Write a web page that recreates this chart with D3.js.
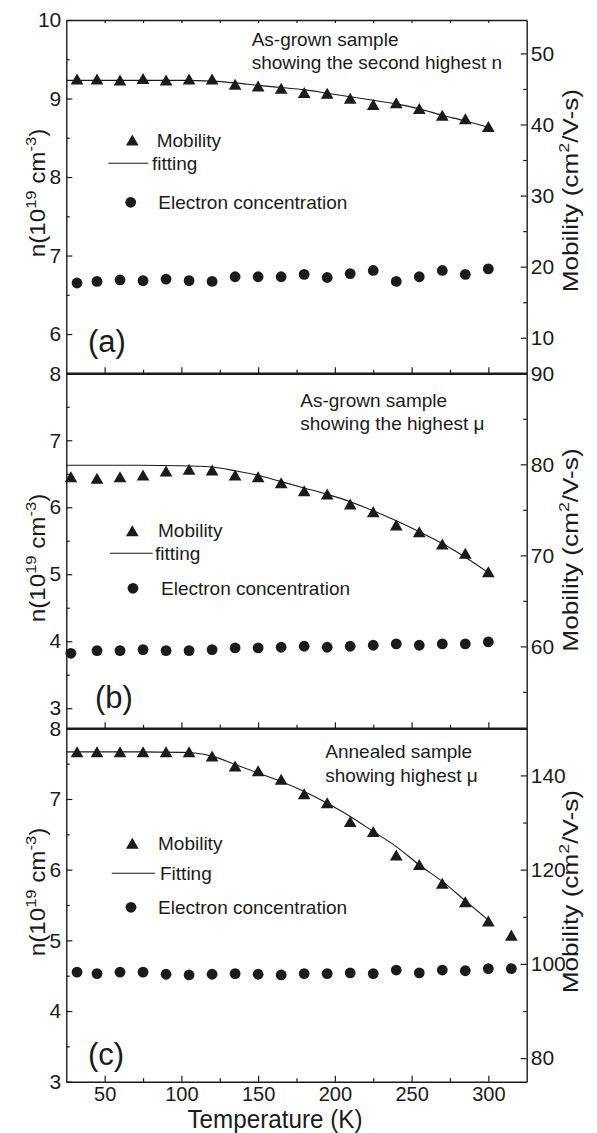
<!DOCTYPE html>
<html>
<head>
<meta charset="utf-8">
<script src="https://cdn.jsdelivr.net/npm/d3@7"></script>
<style>
  body { margin: 0; background: #fff; }
  svg { display: block; font-family: "Liberation Sans", Arial, sans-serif; }
</style>
</head>
<body>
<div class="chart"></div>
<script>
const width = 597;
const height = 1133;

// temperatures (K) and values
const tempsA = [32, 45, 60, 75, 90, 105, 120, 135, 150, 165, 180, 195, 210, 225, 240, 255, 270, 285, 300];
const mobilityA = [46.4, 46.4, 46.25, 46.45, 46.25, 46.4, 46.4, 45.65, 45.4, 45.1, 44.5, 44.4, 43.7, 42.8, 43.05, 42.25, 41.3, 40.8, 39.7];
const concA = [6.65, 6.67, 6.69, 6.68, 6.70, 6.68, 6.67, 6.73, 6.73, 6.73, 6.76, 6.72, 6.77, 6.81, 6.67, 6.73, 6.81, 6.76, 6.83];
const fitTempsA = [25, 60, 100, 120, 135, 150, 165, 180, 195, 210, 225, 240, 255, 270, 285, 300];
const fitA = [46.2, 46.2, 46.2, 46.1, 45.85, 45.5, 45.2, 44.9, 44.4, 43.9, 43.4, 42.9, 42.2, 41.3, 40.5, 39.6];

const tempsB = [28, 45, 60, 75, 90, 105, 120, 135, 150, 165, 180, 195, 210, 225, 240, 255, 270, 285, 300];
const mobilityB = [78.64, 78.46, 78.64, 78.82, 79.26, 79.45, 79.37, 78.82, 78.64, 77.98, 77.1, 76.74, 75.64, 74.8, 73.33, 72.6, 71.24, 70.22, 68.2];
const concB = [3.82, 3.86, 3.86, 3.875, 3.86, 3.86, 3.875, 3.90, 3.90, 3.91, 3.925, 3.91, 3.925, 3.94, 3.96, 3.94, 3.96, 3.96, 3.99];
const fitTempsB = [25, 60, 100, 120, 135, 150, 165, 180, 195, 210, 225, 240, 255, 270, 285, 300];
const fitB = [79.9, 79.9, 79.85, 79.7, 79.3, 78.8, 78.1, 77.4, 76.7, 75.9, 74.9, 73.8, 72.6, 71.3, 69.8, 68.1];

const tempsC = [32, 45, 60, 75, 90, 105, 120, 135, 150, 165, 180, 195, 210, 225, 240, 255, 270, 285, 300, 315];
const mobilityC = [145.0, 145.0, 145.0, 145.0, 145.0, 145.0, 144.1, 142.0, 141.0, 139.2, 136.1, 134.2, 130.2, 128.1, 123.1, 121.1, 117.1, 113.2, 109.1, 106.1];
const concC = [4.55, 4.53, 4.55, 4.55, 4.52, 4.51, 4.52, 4.53, 4.52, 4.51, 4.53, 4.53, 4.54, 4.53, 4.58, 4.54, 4.58, 4.57, 4.60, 4.60];
const fitTempsC = [25, 60, 100, 110, 120, 135, 150, 165, 180, 195, 210, 225, 240, 255, 270, 285, 300];
const fitC = [145.0, 145.0, 144.9, 144.7, 144.1, 142.3, 140.5, 138.7, 136.6, 134.1, 131.3, 128.1, 124.9, 121.0, 117.5, 113.4, 109.3];

// tick labels
const tempTicks = [50, 100, 150, 200, 250, 300];
const tempMinor = [75, 125, 175, 225, 275];
const nTicksA = [6, 7, 8, 9, 10];
const nTicksBC = [3, 4, 5, 6, 7, 8];
const muTicksA = [10, 20, 30, 40, 50];
const muTicksB = [60, 70, 80, 90];
const muTicksC = [80, 100, 120, 140];

const panelLabels = ['(a)', '(b)', '(c)'];
const notesA = ['As-grown sample', 'showing the second highest n'];
const notesB = ['As-grown sample', 'showing the highest \u03bc'];
const notesC = ['Annealed sample', 'showing highest \u03bc'];
const legendA = ['Mobility', 'fitting', 'Electron concentration'];
const legendC = ['Mobility', 'Fitting', 'Electron concentration'];

const ink = '#1b1b1b';
const left = 66.3;
const right = 526.7;

const panels = [
  { top: 20, bottom: 373.3, nDomain: [5.5, 10], muDomain: [5, 54.7],
    nTicks: nTicksA, nMinor: [6.5, 7.5, 8.5, 9.5], muTicks: muTicksA, muMinor: [15, 25, 35, 45],
    temps: tempsA, mob: mobilityA, conc: concA, fitT: fitTempsA, fit: fitA,
    label: panelLabels[0], labelPos: [88, 352], notes: notesA, notePos: [251.7, 45.5],
    legend: legendA, leg: { tri: [132.3, 140], line: [108.3, 148.3, 163.3], circ: [130.7, 202.3], tx: [156.7, 152, 158.3] },
    nTitleY: 193, muTitleY: 190.7, topTicks: true, topWidth: 1.4 },
  { top: 373.3, bottom: 728.3, nDomain: [2.7, 8], muDomain: [51, 90],
    nTicks: nTicksBC, nMinor: [3.5, 4.5, 5.5, 6.5, 7.5], muTicks: muTicksB, muMinor: [55, 65, 75, 85],
    temps: tempsB, mob: mobilityB, conc: concB, fitT: fitTempsB, fit: fitB,
    label: panelLabels[1], labelPos: [95, 708.3], notes: notesB, notePos: [300.3, 406.7],
    legend: legendA, leg: { tri: [132.3, 530.7], line: [110, 152.7, 553.3], circ: [133, 588.3], tx: [158, 155, 161] },
    nTitleY: 558, muTitleY: 550, topTicks: false, topWidth: 2.6 },
  { top: 728.3, bottom: 1081.7, nDomain: [3, 8], muDomain: [75, 150],
    nTicks: nTicksBC, nMinor: [3.5, 4.5, 5.5, 6.5, 7.5], muTicks: muTicksC, muMinor: [90, 110, 130],
    temps: tempsC, mob: mobilityC, conc: concC, fitT: fitTempsC, fit: fitC,
    label: panelLabels[2], labelPos: [88, 1065], notes: notesC, notePos: [325.3, 758.3],
    legend: legendC, leg: { tri: [132.3, 843.3], line: [111.7, 155, 873.3], circ: [131, 907.3], tx: [158, 160, 158] },
    nTitleY: 892, muTitleY: 891.7, topTicks: false, topWidth: 2.6, xLabels: true }
];

const svg = d3.select('.chart').append('svg')
  .attr('xmlns', 'http://www.w3.org/2000/svg')
  .attr('width', width)
  .attr('height', height);

const scaleX = d3.scaleLinear().domain([25, 325]).range([left, right]);
const triangle = d3.symbol(d3.symbolTriangle, 70);

let styleAxis = (g, fontSize) => {
  g.attr('font-family', null).attr('font-size', fontSize);
  g.select('.domain').attr('stroke', ink).attr('stroke-width', 1.4);
  g.selectAll('.tick line').attr('stroke', ink).attr('stroke-width', 1.2);
  g.selectAll('.tick text').attr('fill', ink);
};

let drawPanel = (p) => {
  const yN = d3.scaleLinear().domain(p.nDomain).range([p.bottom, p.top]);
  const yMu = d3.scaleLinear().domain(p.muDomain).range([p.bottom, p.top]);
  const group = svg.append('g');

  // left axis
  group.append('g').attr('transform', 'translate(' + left + ',0)')
    .call(d3.axisLeft(yN).tickValues(p.nTicks).tickSize(-6).tickSizeOuter(0).tickPadding(5).tickFormat(d3.format('d')))
    .call((g) => styleAxis(g, 21));
  group.append('g').attr('transform', 'translate(' + left + ',0)')
    .call(d3.axisLeft(yN).tickValues(p.nMinor).tickSize(-3.5).tickFormat(''))
    .call((g) => { styleAxis(g, 21); g.select('.domain').remove(); });

  // right axis
  group.append('g').attr('transform', 'translate(' + right + ',0)')
    .call(d3.axisRight(yMu).tickValues(p.muTicks).tickSize(-6).tickSizeOuter(0).tickPadding(4).tickFormat(d3.format('d')))
    .call((g) => styleAxis(g, 21));
  group.append('g').attr('transform', 'translate(' + right + ',0)')
    .call(d3.axisRight(yMu).tickValues(p.muMinor).tickSize(-3.5).tickFormat(''))
    .call((g) => { styleAxis(g, 21); g.select('.domain').remove(); });

  // bottom axis
  group.append('g').attr('transform', 'translate(0,' + p.bottom + ')')
    .call(d3.axisBottom(scaleX).tickValues(tempTicks).tickSize(-6).tickSizeOuter(0).tickPadding(5)
      .tickFormat(p.xLabels ? d3.format('d') : ''))
    .call((g) => styleAxis(g, 20));
  group.append('g').attr('transform', 'translate(0,' + p.bottom + ')')
    .call(d3.axisBottom(scaleX).tickValues(tempMinor).tickSize(-3.5).tickFormat(''))
    .call((g) => { styleAxis(g, 20); g.select('.domain').remove(); });

  // top axis
  group.append('g').attr('transform', 'translate(0,' + p.top + ')')
    .call(d3.axisTop(scaleX).tickValues(p.topTicks ? tempTicks.concat(tempMinor) : []).tickSize(-3).tickSizeOuter(0).tickFormat(''))
    .call((g) => { styleAxis(g, 21); g.select('.domain').attr('stroke-width', p.topWidth); });

  // fitting curve
  const generatorLine = d3.line()
    .x((d) => scaleX(d[0]))
    .y((d) => yMu(d[1]))
    .curve(d3.curveMonotoneX);
  group.append('path')
    .attr('d', generatorLine(d3.zip(p.fitT, p.fit)))
    .attr('fill', 'none').attr('stroke', ink).attr('stroke-width', 1.1);

  // mobility triangles
  group.selectAll('.tri').data(d3.zip(p.temps, p.mob)).join('path')
    .attr('class', 'tri')
    .attr('d', triangle)
    .attr('transform', (d) => 'translate(' + scaleX(d[0]) + ',' + (yMu(d[1]) + 1.8) + ')')
    .attr('fill', ink);

  // electron concentration circles
  group.selectAll('.dot').data(d3.zip(p.temps, p.conc)).join('circle')
    .attr('class', 'dot')
    .attr('cx', (d) => scaleX(d[0]))
    .attr('cy', (d) => yN(d[1]))
    .attr('r', 5.4)
    .attr('fill', ink);

  // legend
  group.append('path').attr('d', triangle)
    .attr('transform', 'translate(' + p.leg.tri[0] + ',' + (p.leg.tri[1] + 1.8) + ')')
    .attr('fill', ink);
  group.append('line')
    .attr('x1', p.leg.line[0]).attr('x2', p.leg.line[1])
    .attr('y1', p.leg.line[2]).attr('y2', p.leg.line[2])
    .attr('stroke', ink).attr('stroke-width', 1.1);
  group.append('circle').attr('cx', p.leg.circ[0]).attr('cy', p.leg.circ[1]).attr('r', 5.4).attr('fill', ink);
  const legY = [p.leg.tri[1], p.leg.line[2], p.leg.circ[1]];
  p.legend.forEach((t, i) => {
    group.append('text').attr('x', p.leg.tx[i]).attr('y', legY[i]).attr('dy', '0.35em')
      .attr('font-size', 19).attr('fill', ink).text(t);
  });

  // sample note
  p.notes.forEach((t, i) => {
    group.append('text').attr('x', p.notePos[0]).attr('y', p.notePos[1] + i * 23.2)
      .attr('font-size', 19).attr('fill', ink).text(t);
  });

  // panel label
  group.append('text').attr('x', p.labelPos[0]).attr('y', p.labelPos[1])
    .attr('font-size', 31).attr('fill', ink).text(p.label);

  // left title
  const nTitle = group.append('text')
    .attr('transform', 'translate(45,' + p.nTitleY + ') rotate(-90) scale(1.1,1)')
    .attr('text-anchor', 'middle').attr('font-size', 22).attr('fill', ink);
  nTitle.append('tspan').text('n(10');
  nTitle.append('tspan').attr('font-size', 15).attr('dy', -9).text('19');
  nTitle.append('tspan').attr('dy', 9).text(' cm');
  nTitle.append('tspan').attr('font-size', 15).attr('dy', -9).text('-3');
  nTitle.append('tspan').attr('dy', 9).text(')');

  // right title
  const muTitle = group.append('text')
    .attr('transform', 'translate(578,' + p.muTitleY + ') rotate(-90) scale(1.19,1)')
    .attr('text-anchor', 'middle').attr('font-size', 22).attr('fill', ink);
  muTitle.append('tspan').text('Mobility (cm');
  muTitle.append('tspan').attr('font-size', 15).attr('dy', -9).text('2');
  muTitle.append('tspan').attr('dy', 9).text('/V-s)');
};

panels.forEach(drawPanel);

svg.append('text')
  .attr('transform', 'translate(275,1127.7) scale(0.97,1)')
  .attr('text-anchor', 'middle').attr('font-size', 25).attr('fill', ink)
  .text('Temperature (K)');
</script>
</body>
</html>
